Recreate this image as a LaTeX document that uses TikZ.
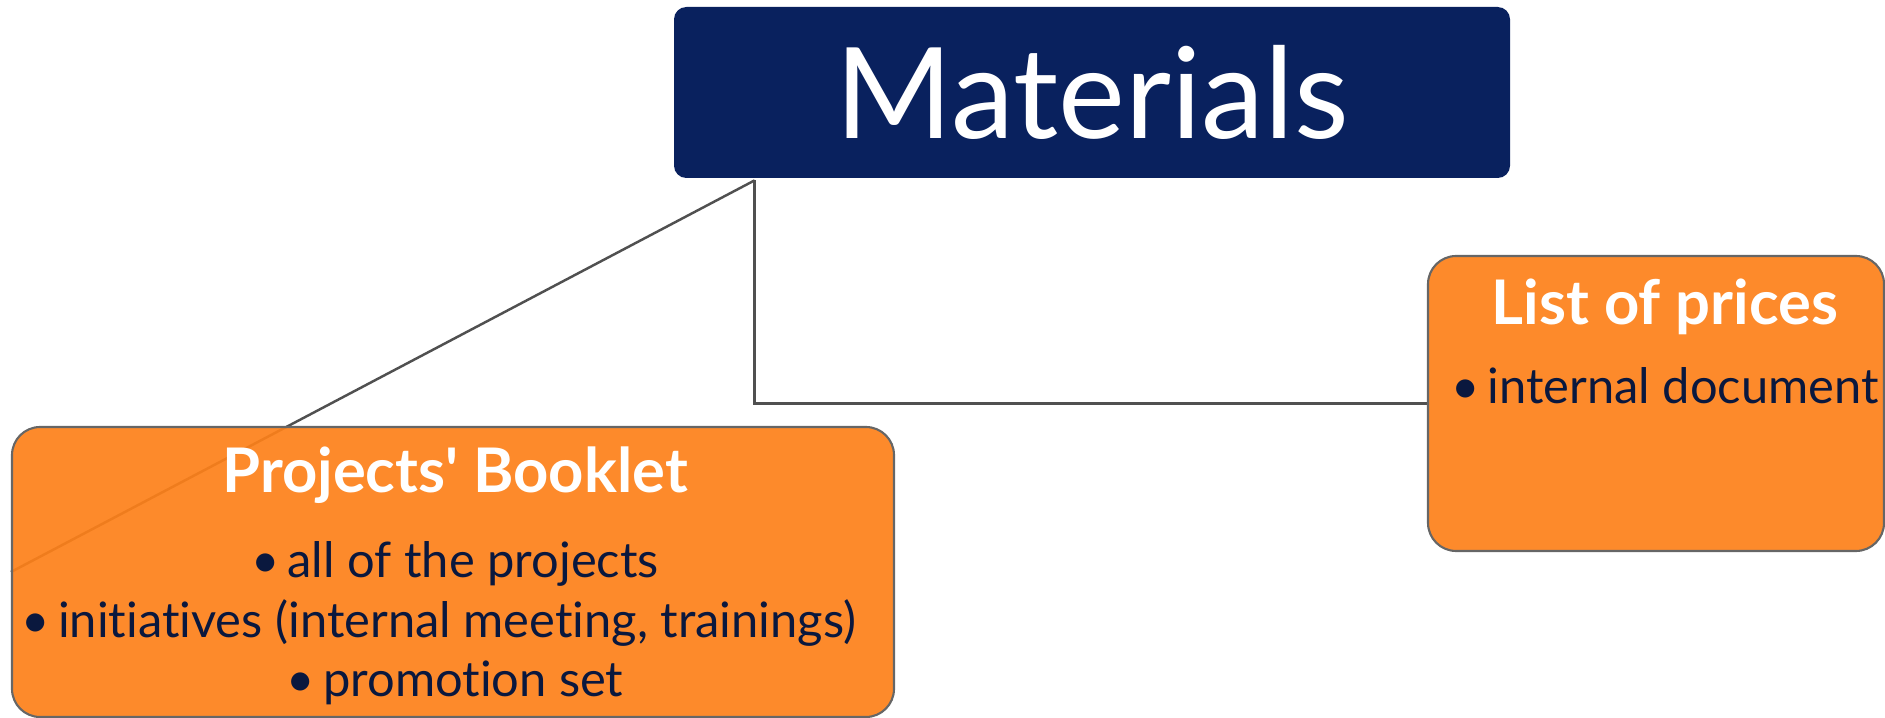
\documentclass[tikz,border=0pt]{standalone}
\usepackage{fontspec}
\setmainfont{Lato}[Ligatures=NoCommon]
\usetikzlibrary{positioning, calc, backgrounds}
\definecolor{matNavy}  {RGB}{  9, 33, 94}
\definecolor{matOrange}{RGB}{253,128, 25}
\definecolor{matInk}   {RGB}{ 10, 24, 62}
\definecolor{matEdge}  {RGB}{102,102,102}
\definecolor{matLine}  {RGB}{ 80, 80, 80}

\begin{document}
\begin{tikzpicture}[
  root/.style={rectangle, rounded corners=7pt, fill=matNavy, text=white,
    minimum width=16.72cm, minimum height=3.42cm, inner sep=0pt,
    font=\fontsize{72}{80}\selectfont},
  leaf/.style={rectangle, rounded corners=16pt, fill=matOrange,
    fill opacity=0.92, draw=matEdge, line width=1.2pt, inner sep=0pt},
  head/.style={anchor=base, text=white, inner sep=0pt,
    font=\fontsize{35}{42}\selectfont\bfseries},
  item/.style={anchor=base, text=matInk, inner sep=0pt,
    font=\fontsize{27.8}{34}\selectfont},
  link/.style={matLine, line width=1.4pt},
]
\useasboundingbox (0,0) rectangle (37.7,-14.36);

%% Central node
\node[root] (mat) at (21.84,-1.85) {Materials};

%% Branches
\node[leaf, minimum width=17.64cm, minimum height=5.8cm] (pb) at (9.06,-11.44) {};
\node[leaf, minimum width=9.12cm, minimum height=5.9cm]  (lp) at (33.12,-8.07) {};

%% Branch texts
\node[head] (pbT) at (9.1,-9.86) {Projects\textquotesingle{} Booklet};
\foreach \n/\x/\y/\t in {1/9.1/-11.55/all of the projects,
  2/8.78/-12.75/{initiatives (internal meeting, trainings)},
  3/9.1/-13.93/promotion set}{
  \node[item] (pb\n) at (\x,\y) {\textbullet\,\t};
}
\node[head] (lpT) at (33.3,-6.5) {List of prices};
\node[item] (lp1) at (33.3,-8.08) {\textbullet\,internal document};

%% Connectors
\coordinate (hub) at ([xshift=1.62cm, yshift=-0.04cm]mat.south west);
\begin{scope}[on background layer]
  \draw[link] (hub) -- (pb.west);
  \draw[link] (hub) |- (lp.west);
\end{scope}
\end{tikzpicture}
\end{document}
